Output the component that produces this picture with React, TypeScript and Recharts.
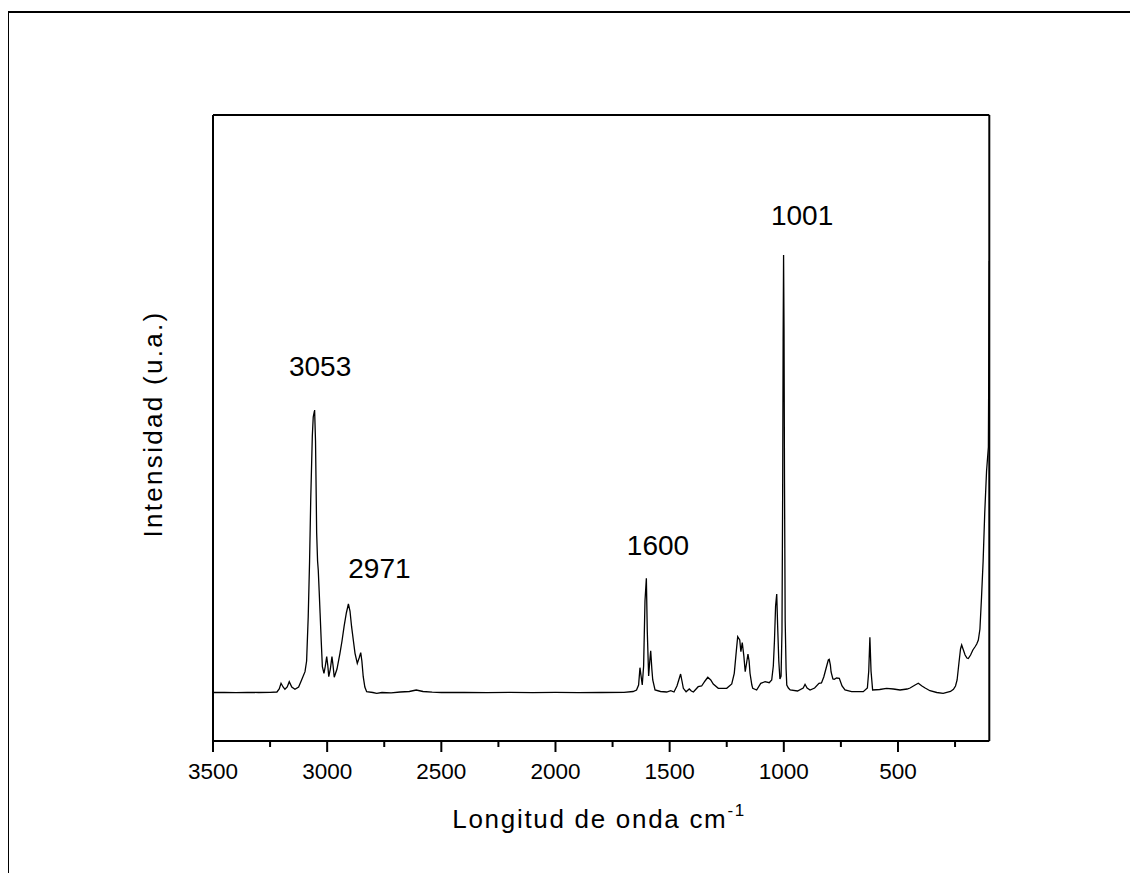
import React from 'react';
import { LineChart, Line, XAxis, YAxis, ReferenceLine, ReferenceDot } from 'recharts';

// Raman spectrum: wavenumber (cm^-1) and intensity (a.u.)
const wavenumbers = [
  3500, 3450, 3400, 3350, 3300, 3250, 3220, 3210, 3202, 3193, 3185, 3175, 3166, 3155, 3141, 3125, 3112, 3097, 3090, 3083,
  3077, 3072, 3065, 3061, 3055, 3051, 3049, 3046, 3042, 3039, 3035, 3031, 3026, 3021, 3014, 3008, 3002, 2997, 2993, 2986,
  2979, 2974, 2969, 2957, 2944, 2935, 2926, 2916, 2907, 2900, 2893, 2885, 2878, 2868, 2860, 2853, 2848, 2842, 2835, 2827,
  2800, 2783, 2760, 2720, 2680, 2640, 2610, 2580, 2540, 2500, 2400, 2300, 2200, 2100, 2000, 1900, 1800, 1700, 1660, 1645,
  1636, 1630, 1620, 1614, 1608, 1602, 1598, 1592, 1587, 1583, 1578, 1574, 1564, 1540, 1513, 1495, 1481, 1468, 1460, 1452,
  1446, 1440, 1428, 1414, 1405, 1396, 1375, 1360, 1345, 1333, 1320, 1309, 1287, 1250, 1228, 1217, 1208, 1202, 1193, 1188,
  1182, 1175, 1169, 1163, 1157, 1152, 1148, 1140, 1136, 1119, 1101, 1082, 1064, 1053, 1046, 1041, 1036, 1031, 1027, 1022,
  1017, 1012, 1008, 1005, 1003, 1001, 999, 997, 994, 990, 987, 980, 972, 940, 915, 907, 898, 885, 865, 846,
  835, 825, 818, 811, 805, 801, 796, 793, 785, 779, 769, 757, 745, 732, 703, 652, 634, 628, 623, 618,
  611, 580, 550, 520, 491, 460, 447, 425, 411, 395, 381, 360, 330, 302, 270, 257, 248, 241, 233, 226,
  221, 215, 206, 198, 192, 182, 172, 163, 155, 148, 141, 134, 127, 120, 112, 104, 100,
];
const intensity = [
  48.5, 48.6, 48.4, 48.6, 48.5, 48.7, 49, 52, 57.7, 54, 51.7, 54, 59.3, 54, 51.7, 54, 61, 69.3, 80, 124,
  180, 241, 305, 324, 331, 300, 264, 208, 180, 171, 150, 128, 100, 74.3, 67.7, 75, 84.3, 75, 64.3, 72,
  84.3, 75, 63.7, 72, 87.7, 100, 114.3, 128, 137, 130, 114.3, 100, 87.7, 77.7, 83, 88.3, 80, 64.3, 54, 49.3,
  48.5, 47.7, 48.5, 48.2, 49, 49.5, 51, 49.5, 48.8, 48.5, 48.7, 48.3, 48.6, 48.4, 48.6, 48.4, 48.5, 48.7, 49.5, 51,
  56, 73.3, 56, 75, 140, 162.7, 110, 65, 80, 90.3, 72, 61, 51, 49.5, 49, 50.3, 49, 55, 61, 67,
  60, 52.7, 49.3, 52, 50, 49, 54.3, 55, 60, 63.7, 61, 57, 52.7, 52.7, 57, 67.7, 90, 104.3, 101, 89.3,
  98.3, 85, 69.3, 78, 87, 80, 67.7, 56, 52.7, 51, 57.7, 59.3, 58.3, 61, 75, 100, 135, 147, 115, 80,
  62, 65, 110, 250, 400, 486, 410, 260, 120, 72, 56, 53, 51, 50, 53, 56.7, 53, 51, 53, 57.7,
  58, 64, 70, 76, 81, 81.7, 76, 69, 62, 61.7, 63, 62.7, 55, 51, 49.3, 49.3, 53, 70, 103.7, 70,
  51, 51.5, 52.7, 52, 51, 52, 53, 56, 57.7, 55, 53, 50.3, 48.5, 47.7, 49.5, 51.7, 55, 61, 78, 92,
  96, 92, 86, 83, 82.5, 86, 91, 94, 97, 101, 112, 144, 180, 228, 270, 294, 480,
];

const xAllTicks = [3500, 3250, 3000, 2750, 2500, 2250, 2000, 1750, 1500, 1250, 1000, 750, 500, 250];
const xMajorTicks = [3500, 3000, 2500, 2000, 1500, 1000, 500];

const peakLabels = ['3053', '2971', '1600', '1001'];
const peakLabelX = [3031, 2771, 1551, 920];
const peakLabelY = [365, 163, 186, 516];

const X_MIN = 100;
const X_MAX = 3500;
const Y_MIN = 0;
const Y_MAX = 626;

const FONT = '"Liberation Sans", Arial, Helvetica, sans-serif';

const data = wavenumbers.map((w, i) => ({ w, v: intensity[i] }));

function XTick(props: any) {
  const { x, y, payload } = props;
  const major = xMajorTicks.includes(payload.value);
  return (
    <g>
      <line x1={x} x2={x} y1={y} y2={y + (major ? 11 : 6)} stroke="#000" strokeWidth={2} />
      {major && (
        <text x={x} y={y + 38} textAnchor="middle" fontSize={22.5} fontFamily={FONT} fill="#000">
          {payload.value}
        </text>
      )}
    </g>
  );
}

function XTitle(props: any) {
  const vb = props.viewBox;
  return (
    <text
      x={vb.x + vb.width / 2 - 2}
      y={vb.y + 87}
      textAnchor="middle"
      fontSize={26}
      letterSpacing={1.7}
      fontFamily={FONT}
      fill="#000"
    >
      Longitud de onda cm
      <tspan fontSize={17} dy={-12}>-1</tspan>
    </text>
  );
}

function YTitle(props: any) {
  const vb = props.viewBox;
  const cx = vb.x + 9;
  const cy = vb.y + vb.height / 2 - 4;
  return (
    <text
      x={cx}
      y={cy}
      transform={`rotate(-90, ${cx}, ${cy})`}
      textAnchor="middle"
      fontSize={26}
      letterSpacing={2.3}
      fontFamily={FONT}
      fill="#000"
    >
      Intensidad (u.a.)
    </text>
  );
}

function PeakText(text: string) {
  return (props: any) => {
    const vb = props.viewBox;
    return (
      <text x={vb.x} y={vb.y} textAnchor="middle" fontSize={28} fontFamily={FONT} fill="#000">
        {text}
      </text>
    );
  };
}

export default function App() {
  return (
    <div style={{ margin: -8, width: 1138, height: 881, overflow: 'hidden', position: 'relative', background: '#fff' }}>
      <div
        style={{
          position: 'absolute',
          left: 7,
          top: 11,
          width: 1131,
          height: 900,
          border: '2px solid #000',
          boxSizing: 'border-box',
        }}
      />
      <div style={{ position: 'absolute', left: 0, top: 0 }}>
        <LineChart
          width={1138}
          height={881}
          data={data}
          margin={{ top: 115, right: 148.7, bottom: 80, left: 153 }}
        >
          <XAxis
            dataKey="w"
            type="number"
            domain={[X_MIN, X_MAX]}
            reversed
            allowDataOverflow
            ticks={xAllTicks}
            interval={0}
            tickSize={0}
            tickMargin={0}
            tickLine={false}
            tick={<XTick />}
            axisLine={{ stroke: '#000', strokeWidth: 2 }}
            height={60}
            label={XTitle}
          />
          <YAxis
            type="number"
            domain={[Y_MIN, Y_MAX]}
            allowDataOverflow
            tick={false}
            tickLine={false}
            axisLine={{ stroke: '#000', strokeWidth: 2 }}
            width={60}
            label={YTitle}
          />
          <ReferenceLine y={Y_MAX} stroke="#000" strokeWidth={2} />
          <ReferenceLine x={X_MIN} stroke="#000" strokeWidth={2} />
          <Line
            dataKey="v"
            type="linear"
            stroke="#000"
            strokeWidth={1.3}
            dot={false}
            activeDot={false}
            isAnimationActive={false}
          />
          {peakLabels.map((t, i) => (
            <ReferenceDot
              key={t}
              x={peakLabelX[i]}
              y={peakLabelY[i]}
              r={0}
              fill="none"
              stroke="none"
              label={PeakText(t)}
            />
          ))}
        </LineChart>
      </div>
    </div>
  );
}
